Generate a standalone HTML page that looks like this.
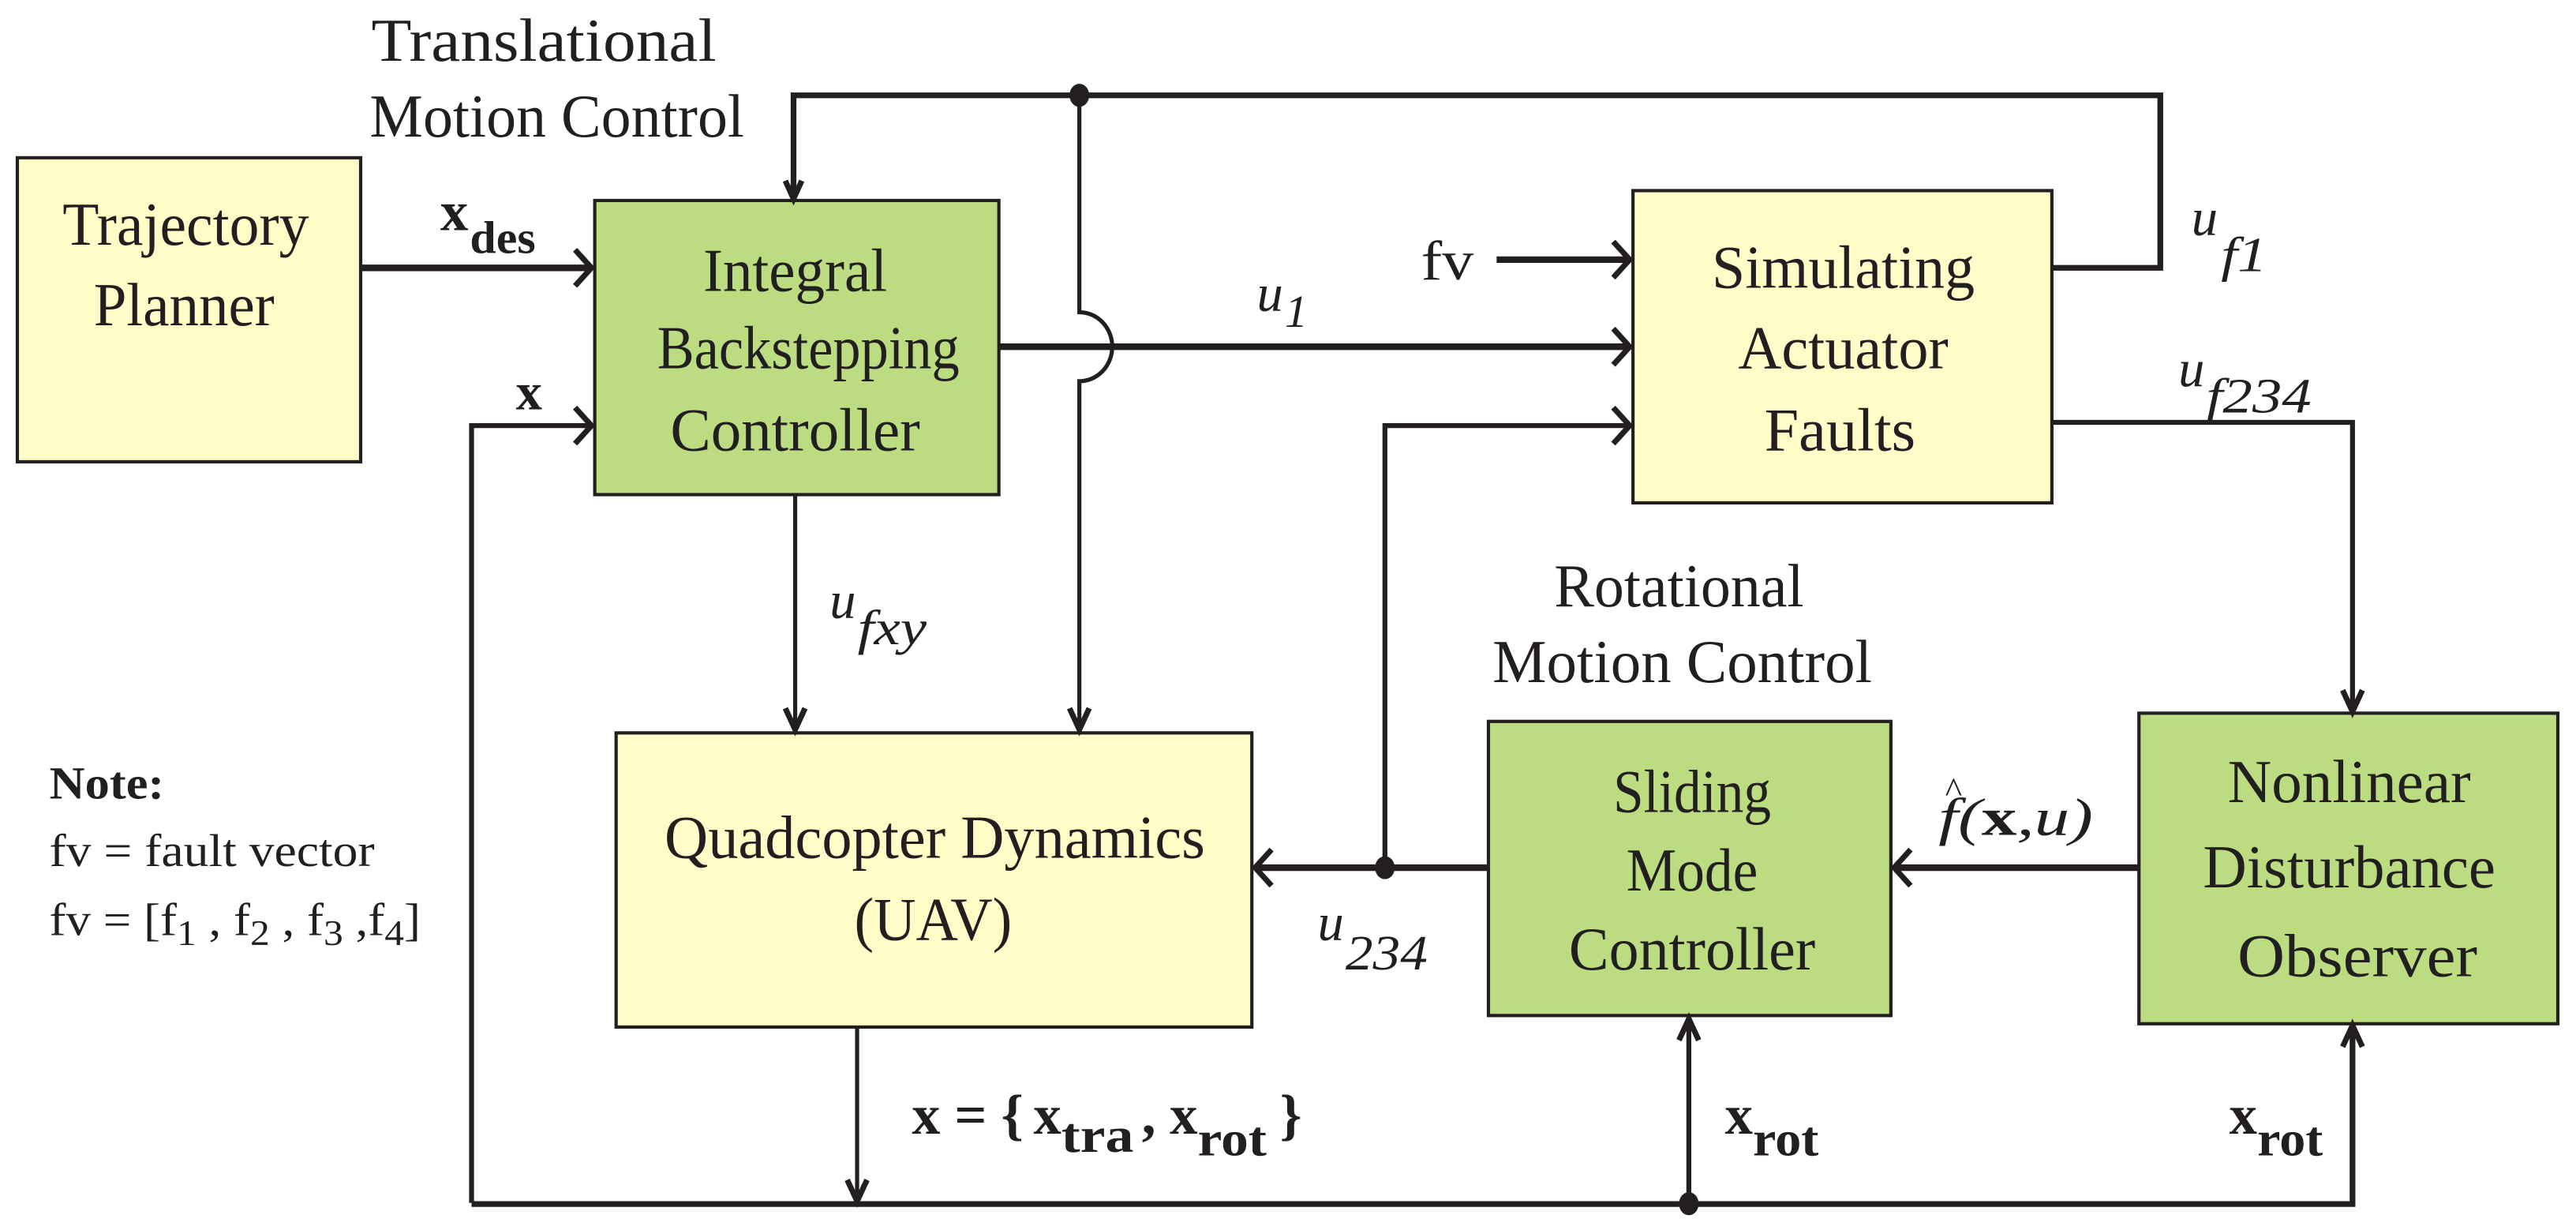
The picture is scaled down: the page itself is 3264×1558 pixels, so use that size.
<!DOCTYPE html>
<html><head><meta charset="utf-8"><style>
html,body{margin:0;padding:0;background:#fff;}
svg{display:block;}
text{font-family:"Liberation Serif",serif;fill:#231f20;}
</style></head><body>
<svg width="3264" height="1558" viewBox="0 0 1568 748.5" xmlns="http://www.w3.org/2000/svg">
<g stroke="#231f20" stroke-width="2" >
<rect x="10.5" y="96" width="209" height="185" fill="#fffcc8"/>
<rect x="362" y="122" width="246" height="179" fill="#bbdc80"/>
<rect x="994" y="116" width="255" height="190" fill="#fffcc8"/>
<rect x="375" y="446" width="387" height="179" fill="#fffcc8"/>
<rect x="906" y="439" width="245" height="179" fill="#bbdc80"/>
<rect x="1302" y="434" width="255" height="189" fill="#bbdc80"/>
</g>
<g stroke="#231f20" fill="none" stroke-linejoin="miter">
<polyline points="1249,163 1315,163 1315,58 483,58 483,120" stroke-width="3.5"/>
<line x1="219" y1="163" x2="360" y2="163" stroke-width="4"/>
<polyline points="287,732 287,259 360,259" stroke-width="3"/>
<line x1="608" y1="211" x2="992" y2="211" stroke-width="4"/>
<path d="M657,58 V190 A20,21 0 0 1 657,232 V444" stroke-width="2.5"/>
<line x1="911" y1="158" x2="992" y2="158" stroke-width="4"/>
<polyline points="843,528 843,259 992,259" stroke-width="3"/>
<polyline points="1249,257 1432,257 1432,432" stroke-width="3"/>
<line x1="484" y1="301" x2="484" y2="444" stroke-width="2.5"/>
<line x1="906" y1="528" x2="764" y2="528" stroke-width="4"/>
<line x1="1302" y1="528" x2="1153" y2="528" stroke-width="4"/>
<line x1="521.7" y1="625" x2="521.7" y2="731" stroke-width="2.5"/>
<polyline points="287,732.7 1432,732.7 1432,624" stroke-width="3.5"/>
<line x1="1028" y1="732" x2="1028" y2="620" stroke-width="3"/>
</g>
<g stroke="#231f20" fill="none" stroke-width="3.4">
<polyline points="478,110 483,121 488,110"/>
<polyline points="350,152 360,163 350,174"/>
<polyline points="350,248 360,259 350,270"/>
<polyline points="982,200 992,211 982,222"/>
<polyline points="982,147 992,158 982,169"/>
<polyline points="982,248 992,259 982,270"/>
<polyline points="1426,420 1432,433 1438,420"/>
<polyline points="478,431 484,444 490,431"/>
<polyline points="651,431 657,444 663,431"/>
<polyline points="774,517 764,528 774,539"/>
<polyline points="1163,517 1153,528 1163,539"/>
<polyline points="515.7,718 521.7,731 527.7,718"/>
<polyline points="1022,633 1028,620 1034,633"/>
<polyline points="1426,637 1432,624 1438,637"/>
</g>
<g fill="#231f20">
<ellipse cx="657" cy="58" rx="6" ry="7"/>
<ellipse cx="843" cy="528" rx="6" ry="7"/>
<ellipse cx="1028" cy="732.5" rx="6" ry="7"/>
</g>
<g font-size="37" text-anchor="middle">
<text x="113" y="149" textLength="150" lengthAdjust="spacingAndGlyphs">Trajectory</text>
<text x="112" y="198" textLength="110" lengthAdjust="spacingAndGlyphs">Planner</text>
<text x="484" y="177" textLength="112" lengthAdjust="spacingAndGlyphs">Integral</text>
<text x="492" y="224" textLength="184" lengthAdjust="spacingAndGlyphs">Backstepping</text>
<text x="484" y="274" textLength="152" lengthAdjust="spacingAndGlyphs">Controller</text>
<text x="1122" y="175" textLength="160" lengthAdjust="spacingAndGlyphs">Simulating</text>
<text x="1122" y="224" textLength="128" lengthAdjust="spacingAndGlyphs">Actuator</text>
<text x="1120" y="274" textLength="92" lengthAdjust="spacingAndGlyphs">Faults</text>
<text x="569" y="522" textLength="329" lengthAdjust="spacingAndGlyphs">Quadcopter Dynamics</text>
<text x="568" y="572" textLength="96" lengthAdjust="spacingAndGlyphs">(UAV)</text>
<text x="1030" y="494" textLength="96" lengthAdjust="spacingAndGlyphs">Sliding</text>
<text x="1030" y="542" textLength="80" lengthAdjust="spacingAndGlyphs">Mode</text>
<text x="1030" y="590" textLength="150" lengthAdjust="spacingAndGlyphs">Controller</text>
<text x="1430" y="488" textLength="148" lengthAdjust="spacingAndGlyphs">Nonlinear</text>
<text x="1430" y="540" textLength="178" lengthAdjust="spacingAndGlyphs">Disturbance</text>
<text x="1435" y="594" textLength="146" lengthAdjust="spacingAndGlyphs">Observer</text>
<text x="331" y="37" textLength="210" lengthAdjust="spacingAndGlyphs">Translational</text>
<text x="339" y="83" textLength="228" lengthAdjust="spacingAndGlyphs">Motion Control</text>
<text x="1022" y="369" textLength="152" lengthAdjust="spacingAndGlyphs">Rotational</text>
<text x="1024" y="415" textLength="231" lengthAdjust="spacingAndGlyphs">Motion Control</text>
</g>
<g font-size="32">
<text x="268" y="140" font-weight="bold" font-size="34">x</text>
<text x="286" y="154" font-weight="bold" font-size="28" textLength="40" lengthAdjust="spacingAndGlyphs">des</text>
<text x="314" y="249" font-weight="bold" font-size="32">x</text>
<text x="765" y="189" font-style="italic">u</text>
<text x="782" y="199" font-style="italic" font-size="28">1</text>
<text x="865" y="170" font-size="34" textLength="32" lengthAdjust="spacingAndGlyphs">fv</text>
<text x="1334" y="143" font-style="italic">u</text>
<text x="1352" y="165" font-style="italic" font-size="30" textLength="28" lengthAdjust="spacingAndGlyphs">f1</text>
<text x="1326" y="235" font-style="italic">u</text>
<text x="1343" y="251" font-style="italic" font-size="30" textLength="64" lengthAdjust="spacingAndGlyphs">f234</text>
<text x="505" y="376" font-style="italic">u</text>
<text x="522" y="392" font-style="italic" font-size="30" textLength="42" lengthAdjust="spacingAndGlyphs">fxy</text>
<text x="802" y="572" font-style="italic">u</text>
<text x="819" y="590" font-style="italic" font-size="30" textLength="50" lengthAdjust="spacingAndGlyphs">234</text>
<text x="1184" y="488" font-size="22">^</text>
<text x="1180" y="508" font-style="italic" textLength="94" lengthAdjust="spacingAndGlyphs">f(<tspan font-weight="bold" font-style="normal">x</tspan>,u)</text>
<text x="555" y="690" font-weight="bold" font-size="34" textLength="68" lengthAdjust="spacingAndGlyphs">x = {</text>
<text x="629" y="690" font-weight="bold" font-size="34">x</text>
<text x="646" y="701" font-weight="bold" font-size="30" textLength="44" lengthAdjust="spacingAndGlyphs">tra</text>
<text x="695" y="690" font-weight="bold" font-size="34">,</text>
<text x="712" y="690" font-weight="bold" font-size="34">x</text>
<text x="729" y="703" font-weight="bold" font-size="30" textLength="42" lengthAdjust="spacingAndGlyphs">rot</text>
<text x="779" y="690" font-weight="bold" font-size="34">}</text>
<text x="1050" y="690" font-weight="bold" font-size="34">x</text>
<text x="1067" y="703" font-weight="bold" font-size="30" textLength="40" lengthAdjust="spacingAndGlyphs">rot</text>
<text x="1357" y="690" font-weight="bold" font-size="34">x</text>
<text x="1374" y="703" font-weight="bold" font-size="30" textLength="40" lengthAdjust="spacingAndGlyphs">rot</text>
</g>
<g font-size="28">
<text x="30" y="486" font-weight="bold" textLength="70" lengthAdjust="spacingAndGlyphs">Note:</text>
<text x="30" y="527" textLength="198" lengthAdjust="spacingAndGlyphs">fv = fault vector</text>
<text x="30" y="569" textLength="226" lengthAdjust="spacingAndGlyphs">fv = [f<tspan font-size="22" dy="6">1</tspan><tspan dy="-6"> , f</tspan><tspan font-size="22" dy="6">2</tspan><tspan dy="-6"> , f</tspan><tspan font-size="22" dy="6">3</tspan><tspan dy="-6"> ,f</tspan><tspan font-size="22" dy="6">4</tspan><tspan dy="-6">]</tspan></text>
</g>
</svg>
</body></html>
